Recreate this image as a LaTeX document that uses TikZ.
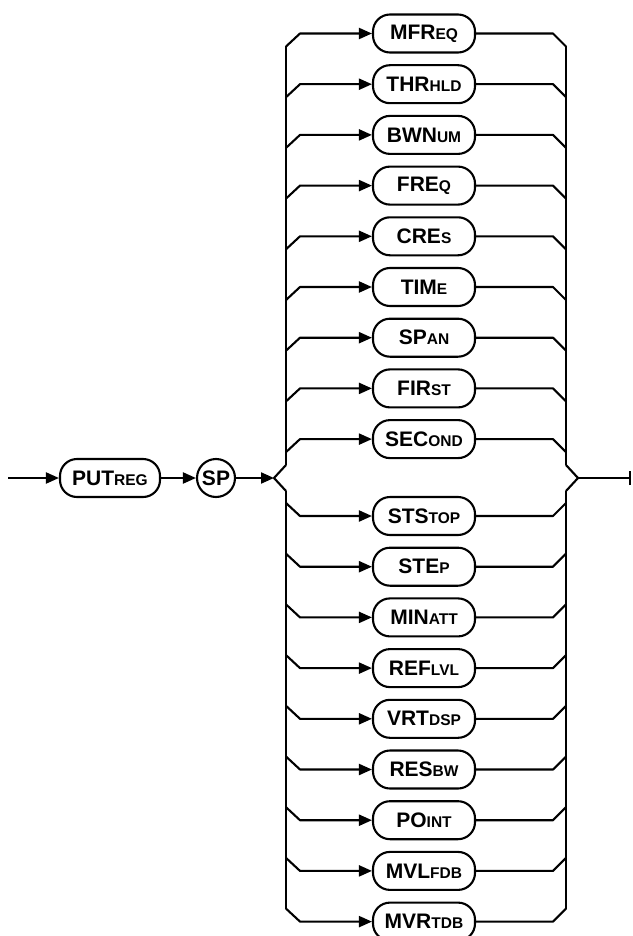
\documentclass[tikz,border=0pt]{standalone}
\usepackage{fontspec}
\setmainfont{Liberation Sans}
\usetikzlibrary{arrows.meta}
\newcommand{\smc}[1]{{\fontsize{15.5}{16}\selectfont #1}}
\tikzset{
  line/.style={line width=2.1pt, line join=round},
  arr/.style={line, -{Triangle[length=13pt,width=11pt]}},
  kw/.style={draw, line width=2.1pt, rounded corners=17pt, minimum width=102pt,
    minimum height=38pt, inner sep=0pt, font=\bfseries\fontsize{21}{22}\selectfont},
  circ/.style={draw, circle, line width=2.1pt, minimum size=38pt, inner sep=0pt,
    font=\bfseries\fontsize{21}{22}\selectfont}
}
\begin{document}
\begin{tikzpicture}[x=1pt,y=-1pt]
\useasboundingbox (0,0) rectangle (632,936);
% main line
\coordinate (start) at (8,478);
\node[kw, minimum width=100pt] (putreg) at (110,478) {PUT\smc{REG}};
\node[circ] (sp) at (216,478) {SP};
\coordinate (L) at (274,478);
\coordinate (R) at (578,478);
\coordinate (endp) at (630,478);
\coordinate (Lu) at (286,465);
\coordinate (Ld) at (286,491);
\coordinate (Ru) at (566,465);
\coordinate (Rd) at (566,491);
\draw[arr] (start) -- (putreg.west);
\draw[arr] (putreg.east) -- (sp.west);
\draw[arr] (sp.east) -- (L);
\draw[line] (Lu) -- (L) -- (Ld);
\draw[line] (Ru) -- (R) -- (Rd);
\draw[line] (R) -- (endp);
\draw[line] ([yshift=-7pt]endp) -- ([yshift=7pt]endp);
% upper branches
\foreach \i/\lab in {0/{MFR\smc{EQ}},1/{THR\smc{HLD}},2/{BWN\smc{UM}},3/{FRE\smc{Q}},
  4/{CRE\smc{S}},5/{TIM\smc{E}},6/{SP\smc{AN}},7/{FIR\smc{ST}},8/{SEC\smc{OND}}}{
  \pgfmathsetmacro{\yy}{33.5+50.7*\i}
  \node[kw] (u\i) at (424,\yy) {\lab};
  \coordinate (ua\i) at (286,\yy+13);
  \coordinate (ub\i) at (300,\yy);
  \coordinate (uc\i) at (553,\yy);
  \coordinate (ud\i) at (566,\yy+13);
  \draw[arr] (ua\i) -- (ub\i) -- (u\i.west);
  \draw[line] (u\i.east) -- (uc\i) -- (ud\i);
}
% lower branches
\foreach \i/\lab in {0/{STS\smc{TOP}},1/{STE\smc{P}},2/{MIN\smc{ATT}},3/{REF\smc{LVL}},
  4/{VRT\smc{DSP}},5/{RES\smc{BW}},6/{PO\smc{INT}},7/{MVL\smc{FDB}},8/{MVR\smc{TDB}}}{
  \pgfmathsetmacro{\yy}{516+50.7*\i}
  \node[kw] (d\i) at (424,\yy) {\lab};
  \coordinate (da\i) at (286,\yy-13);
  \coordinate (db\i) at (300,\yy);
  \coordinate (dc\i) at (553,\yy);
  \coordinate (dd\i) at (566,\yy-13);
  \draw[arr] (da\i) -- (db\i) -- (d\i.west);
  \draw[line] (d\i.east) -- (dc\i) -- (dd\i);
}
% verticals
\draw[line] (ua0) -- (Lu);
\draw[line] (Ld) -- (da8);
\draw[line] (ud0) -- (Ru);
\draw[line] (Rd) -- (dd8);
\end{tikzpicture}
\end{document}
